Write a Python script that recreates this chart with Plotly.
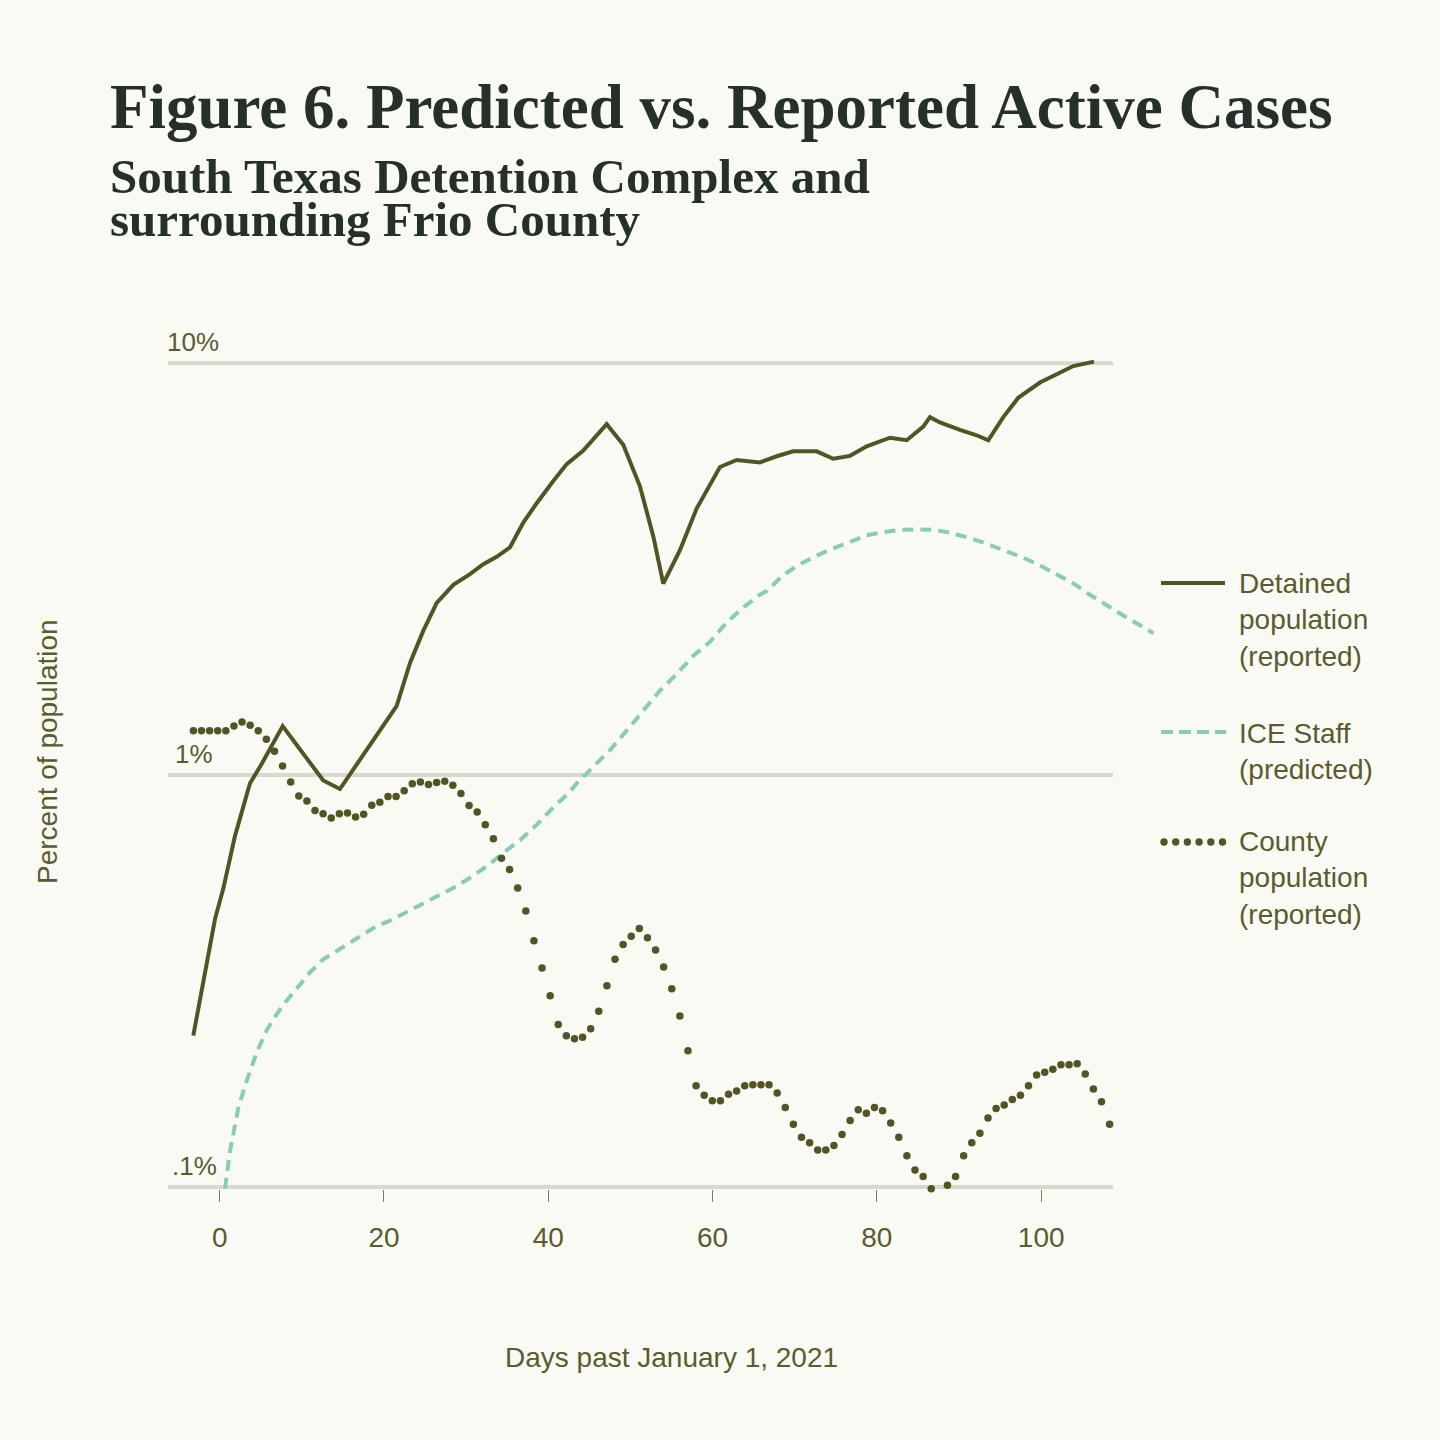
import math
import plotly.graph_objects as go

# ---------------- data ----------------
detained_day = [-3.21, -2.19, -0.57, 0.44, 1.86, 3.69, 4.91, 7.67, 12.61, 14.64,
                17.08, 19.51, 21.55, 23.17, 24.78, 26.42, 28.44, 30.47, 32.09, 33.72,
                35.34, 36.96, 38.59, 40.61, 42.24, 44.26, 47.11, 49.13, 51.16, 52.78,
                54.00, 56.03, 58.06, 60.90, 62.93, 65.78, 67.80, 69.82, 72.67, 74.69,
                76.73, 78.76, 81.59, 83.63, 85.65, 86.46, 87.68, 90.11, 92.15, 93.56,
                95.39, 97.21, 99.85, 101.89, 103.91, 106.43]
detained_pct = [0.233, 0.298, 0.447, 0.530, 0.711, 0.955, 1.047, 1.315, 0.970, 0.925,
                1.091, 1.282, 1.472, 1.871, 2.239, 2.618, 2.897, 3.076, 3.251, 3.388,
                3.573, 4.102, 4.571, 5.176, 5.689, 6.138, 7.112, 6.339, 5.023, 3.802,
                2.917, 3.516, 4.436, 5.598, 5.821, 5.741, 5.943, 6.109, 6.109, 5.861,
                5.957, 6.281, 6.592, 6.501, 7.015, 7.396, 7.178, 6.887, 6.683, 6.501,
                7.396, 8.241, 8.974, 9.397, 9.840, 10.09]

ice_day = [0.65, 1.25, 2.26, 3.08, 4.50, 5.72, 6.73, 7.95, 9.37, 10.99,
           12.61, 14.64, 17.08, 19.11, 20.73, 22.35, 24.38, 26.42, 28.44, 30.47,
           32.50, 34.52, 36.56, 38.59, 40.61, 42.64, 43.46, 45.48, 47.51, 49.54,
           51.56, 53.59, 55.63, 57.65, 59.68, 61.72, 63.74, 65.78, 66.59, 68.61,
           70.64, 72.67, 74.69, 76.73, 78.76, 80.78, 82.81, 84.84, 86.87, 88.90,
           89.71, 91.73, 93.76, 95.80, 97.82, 99.85, 101.89, 103.91, 105.94, 107.97,
           109.99, 112.02, 113.65]
ice_pct = [0.099, 0.122, 0.155, 0.176, 0.212, 0.240, 0.259, 0.280, 0.303, 0.332,
           0.357, 0.379, 0.407, 0.430, 0.443, 0.460, 0.482, 0.508, 0.532, 0.563,
           0.600, 0.647, 0.695, 0.757, 0.835, 0.911, 0.955, 1.048, 1.150, 1.282,
           1.429, 1.603, 1.759, 1.948, 2.105, 2.348, 2.552, 2.742, 2.800, 3.06,
           3.25, 3.41, 3.55, 3.68, 3.82, 3.89, 3.94, 3.95, 3.94, 3.88,
           3.84, 3.74, 3.62, 3.50, 3.37, 3.23, 3.07, 2.92, 2.74, 2.58,
           2.44, 2.31, 2.21]

county_pct = [1.282, 1.282, 1.282, 1.282, 1.282, 1.315, 1.346, 1.321, 1.282, 1.222,
              1.143, 1.052, 0.962, 0.889, 0.865, 0.820, 0.805, 0.787, 0.805, 0.809,
              0.791, 0.803, 0.845, 0.859, 0.887, 0.887, 0.916, 0.953, 0.962, 0.948,
              0.959, 0.966, 0.944, 0.902, 0.843, 0.813, 0.757, 0.700, 0.628, 0.590,
              0.532, 0.468, 0.396, 0.340, 0.291, 0.248, 0.233, 0.229, 0.231, 0.242,
              0.267, 0.308, 0.357, 0.388, 0.406, 0.424, 0.403, 0.376, 0.342, 0.303,
              0.260, 0.214, 0.176, 0.167, 0.162, 0.162, 0.168, 0.171, 0.176, 0.177,
              0.177, 0.177, 0.169, 0.156, 0.142, 0.132, 0.128, 0.123, 0.123, 0.126,
              0.134, 0.145, 0.154, 0.151, 0.156, 0.153, 0.143, 0.132, 0.119, 0.110,
              0.106, 0.099, 0.094, 0.101, 0.106, 0.119, 0.128, 0.135, 0.147, 0.155,
              0.158, 0.163, 0.167, 0.176, 0.187, 0.190, 0.193, 0.198, 0.198, 0.199,
              0.188, 0.173, 0.161, 0.142]
county_first_day = -3.2
county_report_step = 0.987
county_day = [round(county_first_day + i * county_report_step, 3) for i in range(len(county_pct))]

x_tick_vals = [0, 20, 40, 60, 80, 100]
grid_vals = [0.1, 1, 10]
grid_labels = [".1%", "1%", "10%"]
series_names = ["Detained<br>population<br>(reported)", "ICE Staff<br>(predicted)",
                "County<br>population<br>(reported)"]

title_text = "Figure 6. Predicted vs. Reported Active Cases"
subtitle_lines = ["South Texas Detention Complex and", "surrounding Frio County"]
x_title = "Days past January 1, 2021"
y_title = "Percent of population"

# ---------------- styling / layout ----------------
BG = "#fafaf5"
OLIVE = "#545325"
TEXT = "#5c5b2e"
GREEN = "#88cdae"
GRID = "#d8d8cc"
DARK = "#26302a"
SANS = "Liberation Sans, Arial, sans-serif"
SERIF = "Liberation Serif, Times New Roman, serif"

L, R, T, B = 168, 1157, 322, 1189
X_RANGE = [-6.29, 114.1]
Y_RANGE = [-1.005, 1.1]
GRID_X_END = 108.75


def px_x(px):
    return (px - L) / (R - L)


def px_y(py):
    return (B - py) / (B - T)


def val_y(v):
    return (math.log10(v) - Y_RANGE[0]) / (Y_RANGE[1] - Y_RANGE[0])


fig = go.Figure()
fig.add_trace(go.Scatter(x=ice_day, y=ice_pct, mode="lines",
                         line=dict(color=GREEN, width=4, dash="11px,7px"),
                         showlegend=False, hoverinfo="skip"))
fig.add_trace(go.Scatter(x=detained_day, y=detained_pct, mode="lines",
                         line=dict(color=OLIVE, width=4),
                         showlegend=False, hoverinfo="skip"))
fig.add_trace(go.Scatter(x=county_day, y=county_pct, mode="markers",
                         marker=dict(color=OLIVE, size=7.5, line=dict(width=0)),
                         cliponaxis=False, showlegend=False, hoverinfo="skip"))

shapes = []
for v in grid_vals:
    shapes.append(dict(type="line", xref="x", yref="paper", x0=X_RANGE[0], x1=GRID_X_END,
                       y0=val_y(v), y1=val_y(v), line=dict(color=GRID, width=4), layer="below"))

# legend samples
shapes.append(dict(type="line", xref="paper", yref="paper", x0=px_x(1161), x1=px_x(1225),
                   y0=px_y(583), y1=px_y(583), line=dict(color=OLIVE, width=4)))
shapes.append(dict(type="line", xref="paper", yref="paper", x0=px_x(1161), x1=px_x(1226),
                   y0=px_y(732), y1=px_y(732), line=dict(color=GREEN, width=4, dash="12px,6px")))
for i in range(6):
    cx = 1164 + i * 11.7
    r = 3.7
    shapes.append(dict(type="circle", xref="paper", yref="paper",
                       x0=px_x(cx - r), x1=px_x(cx + r), y0=px_y(842 + r), y1=px_y(842 - r),
                       fillcolor=OLIVE, line=dict(width=0)))

annotations = []
annotations.append(dict(text=title_text, xref="paper", yref="paper", x=px_x(108), y=px_y(107),
                        xanchor="left", yanchor="middle", showarrow=False,
                        font=dict(family=SERIF, size=63, color=DARK, weight="bold")))
# subtitle: tight line spacing (43px) via small base font and enlarged spans
sub_html = "<br>".join("<span style='font-size:49px'>%s</span>" % s for s in subtitle_lines)
annotations.append(dict(text=sub_html, xref="paper", yref="paper", x=px_x(108), y=px_y(198),
                        xanchor="left", yanchor="middle", align="left", showarrow=False,
                        font=dict(family=SERIF, size=33, color=DARK, weight="bold")))
annotations.append(dict(text=x_title, xref="paper", yref="paper", x=px_x(671), y=px_y(1357),
                        xanchor="center", yanchor="middle", showarrow=False,
                        font=dict(family=SANS, size=28, color=TEXT)))
annotations.append(dict(text=y_title, xref="paper", yref="paper", x=px_x(47), y=px_y(752),
                        xanchor="center", yanchor="middle", showarrow=False, textangle=-90,
                        font=dict(family=SANS, size=28, color=TEXT)))
for lab, v, lx in zip(grid_labels, grid_vals, [170, 173, 165]):
    annotations.append(dict(text=lab, xref="paper", yref="paper", x=px_x(lx),
                            y=val_y(v), yshift=4, xanchor="left", yanchor="bottom",
                            showarrow=False, font=dict(family=SANS, size=26, color=TEXT)))
for name, cy in zip(series_names, [620, 751, 878]):
    annotations.append(dict(text=name, xref="paper", yref="paper", x=px_x(1237), y=px_y(cy),
                            xanchor="left", yanchor="middle", align="left", showarrow=False,
                            font=dict(family=SANS, size=28, color=TEXT)))

fig.update_layout(
    width=1440, height=1440,
    margin=dict(l=L, r=1440 - R, t=T, b=1440 - B, autoexpand=False),
    paper_bgcolor=BG, plot_bgcolor=BG,
    shapes=shapes, annotations=annotations,
    xaxis=dict(range=X_RANGE, tickvals=x_tick_vals, ticks="outside", ticklen=12,
               tickwidth=1, tickcolor="#7d7c5c", showgrid=False, zeroline=False,
               showline=False, ticklabelstandoff=11,
               tickfont=dict(family=SANS, size=28, color=TEXT)),
    yaxis=dict(type="log", range=Y_RANGE, showgrid=False, zeroline=False, showline=False,
               showticklabels=False, ticks=""),
)

fig.write_html("out.html")
